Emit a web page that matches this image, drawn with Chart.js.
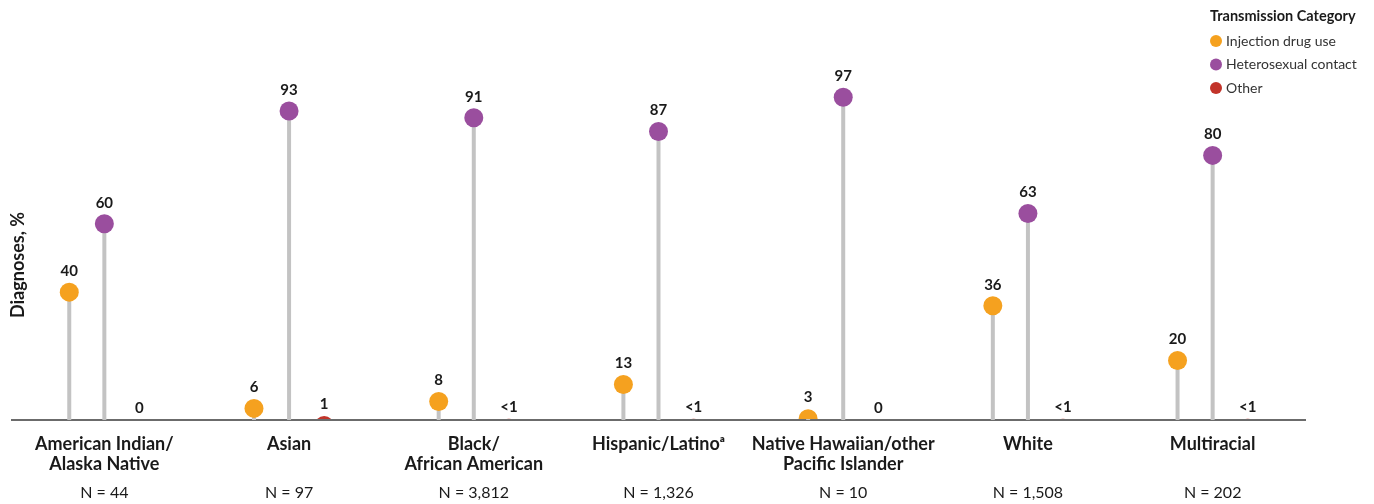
<!DOCTYPE html>
<html>
<head>
<meta charset="utf-8">
<script src="https://cdn.jsdelivr.net/npm/chart.js@4/dist/chart.umd.min.js"></script>
<style>
  html, body { margin: 0; padding: 0; background: #fff; }
  #wrap { position: relative; width: 1374px; height: 504px; }
</style>
</head>
<body>
<div id="wrap"><canvas id="c" width="1374" height="504"></canvas></div>
<script>
// ---- data ----
const categories = [
  ['American Indian/', 'Alaska Native'],
  'Asian',
  ['Black/', 'African American'],
  'Hispanic/Latino\u1D43',
  ['Native Hawaiian/other', 'Pacific Islander'],
  'White',
  'Multiracial'
];
const nLabels = ['N = 44', 'N = 97', 'N = 3,812', 'N = 1,326', 'N = 10', 'N = 1,508', 'N = 202'];
const seriesNames = ['Injection drug use', 'Heterosexual contact', 'Other'];
const injectionDrugUse = [40, 6, 8, 13, 3, 36, 20];
const heterosexualContact = [60, 93, 91, 87, 97, 63, 80];
const other = [0, 1, 0.2, 0.2, 0, 0.2, 0.2];
const legendTitle = 'Transmission Category';
const yTitle = 'Diagnoses, %';

// ---- styles ----
const dotColors = ['#F5A11F', '#9A4E9E', '#C2342A'];
const stemColor = '#C3C3C3';
const FONT = 'Lato, "Open Sans", sans-serif';

function fmt(v) {
  if (v > 0 && v < 1) return '<1';
  return String(Math.round(v));
}

const lollipopPlugin = {
  id: 'lollipop',
  afterDatasetsDraw(chart) {
    const ctx = chart.ctx;
    const area = chart.chartArea;
    const ys = chart.scales.y;
    chart.data.datasets.forEach((ds, di) => {
      const meta = chart.getDatasetMeta(di);
      meta.data.forEach((bar, i) => {
        const v = ds.data[i];
        const y = ys.getPixelForValue(v);
        ctx.save();
        ctx.beginPath();
        ctx.rect(0, 0, chart.width, area.bottom - 1);
        ctx.clip();
        ctx.beginPath();
        ctx.arc(bar.x, y, 9.5, 0, Math.PI * 2);
        ctx.fillStyle = ds.dotColor;
        ctx.fill();
        ctx.restore();
        ctx.save();
        ctx.font = 'bold 15px ' + FONT;
        ctx.fillStyle = '#1a1a1a';
        ctx.textAlign = 'center';
        ctx.textBaseline = 'middle';
        ctx.fillText(fmt(v), bar.x, y - 21);
        ctx.restore();
      });
    });
  },
  afterDraw(chart) {
    const ctx = chart.ctx;
    // y-axis title
    ctx.save();
    ctx.translate(18, 265);
    ctx.rotate(-Math.PI / 2);
    ctx.font = 'bold 18px ' + FONT;
    ctx.fillStyle = '#1a1a1a';
    ctx.textAlign = 'center';
    ctx.textBaseline = 'middle';
    ctx.fillText(yTitle, 0, 0);
    ctx.restore();
    // legend
    ctx.save();
    ctx.font = 'bold 14.5px ' + FONT;
    ctx.fillStyle = '#1a1a1a';
    ctx.textAlign = 'left';
    ctx.textBaseline = 'middle';
    ctx.fillText(legendTitle, 1210, 16);
    ctx.font = '14px ' + FONT;
    chart.data.datasets.forEach((ds, di) => {
      const y = 41 + di * 23.5;
      ctx.beginPath();
      ctx.arc(1216, y, 6, 0, Math.PI * 2);
      ctx.fillStyle = ds.dotColor;
      ctx.fill();
      ctx.fillStyle = '#333';
      ctx.fillText(ds.label, 1226, y);
    });
    ctx.restore();
  }
};

const seriesData = [injectionDrugUse, heterosexualContact, other];

new Chart(document.getElementById('c'), {
  type: 'bar',
  data: {
    labels: categories,
    datasets: seriesData.map((d, i) => ({
      label: seriesNames[i],
      data: d,
      dotColor: dotColors[i],
      backgroundColor: stemColor,
      borderWidth: 0,
      categoryPercentage: 0.57,
      barPercentage: 1,
      maxBarThickness: 4
    }))
  },
  options: {
    responsive: false,
    animation: false,
    devicePixelRatio: 1,
    layout: { padding: { top: 87, left: 12, right: 69, bottom: 0 } },
    plugins: { legend: { display: false }, tooltip: { enabled: false } },
    scales: {
      y: {
        display: false,
        min: 2.6,
        max: 100
      },
      x: {
        position: 'bottom',
        grid: { display: false, drawTicks: false },
        border: { display: true, color: '#6b6b6b', width: 2 },
        afterFit(scale) { scale.height = 50; },
        ticks: {
          autoSkip: false, maxRotation: 0, minRotation: 0,
          padding: 14,
          color: '#1a1a1a',
          font: { family: FONT, size: 18, weight: 'bold', lineHeight: 1.12 }
        }
      },
      xN: {
        position: 'bottom',
        type: 'category',
        labels: nLabels,
        grid: { display: false, drawTicks: false },
        border: { display: false },
        afterFit(scale) { scale.height = 34; },
        ticks: {
          autoSkip: false, maxRotation: 0, minRotation: 0,
          padding: 13,
          color: '#1a1a1a',
          font: { family: FONT, size: 16 }
        }
      }
    }
  },
  plugins: [lollipopPlugin]
});
</script>
</body>
</html>
